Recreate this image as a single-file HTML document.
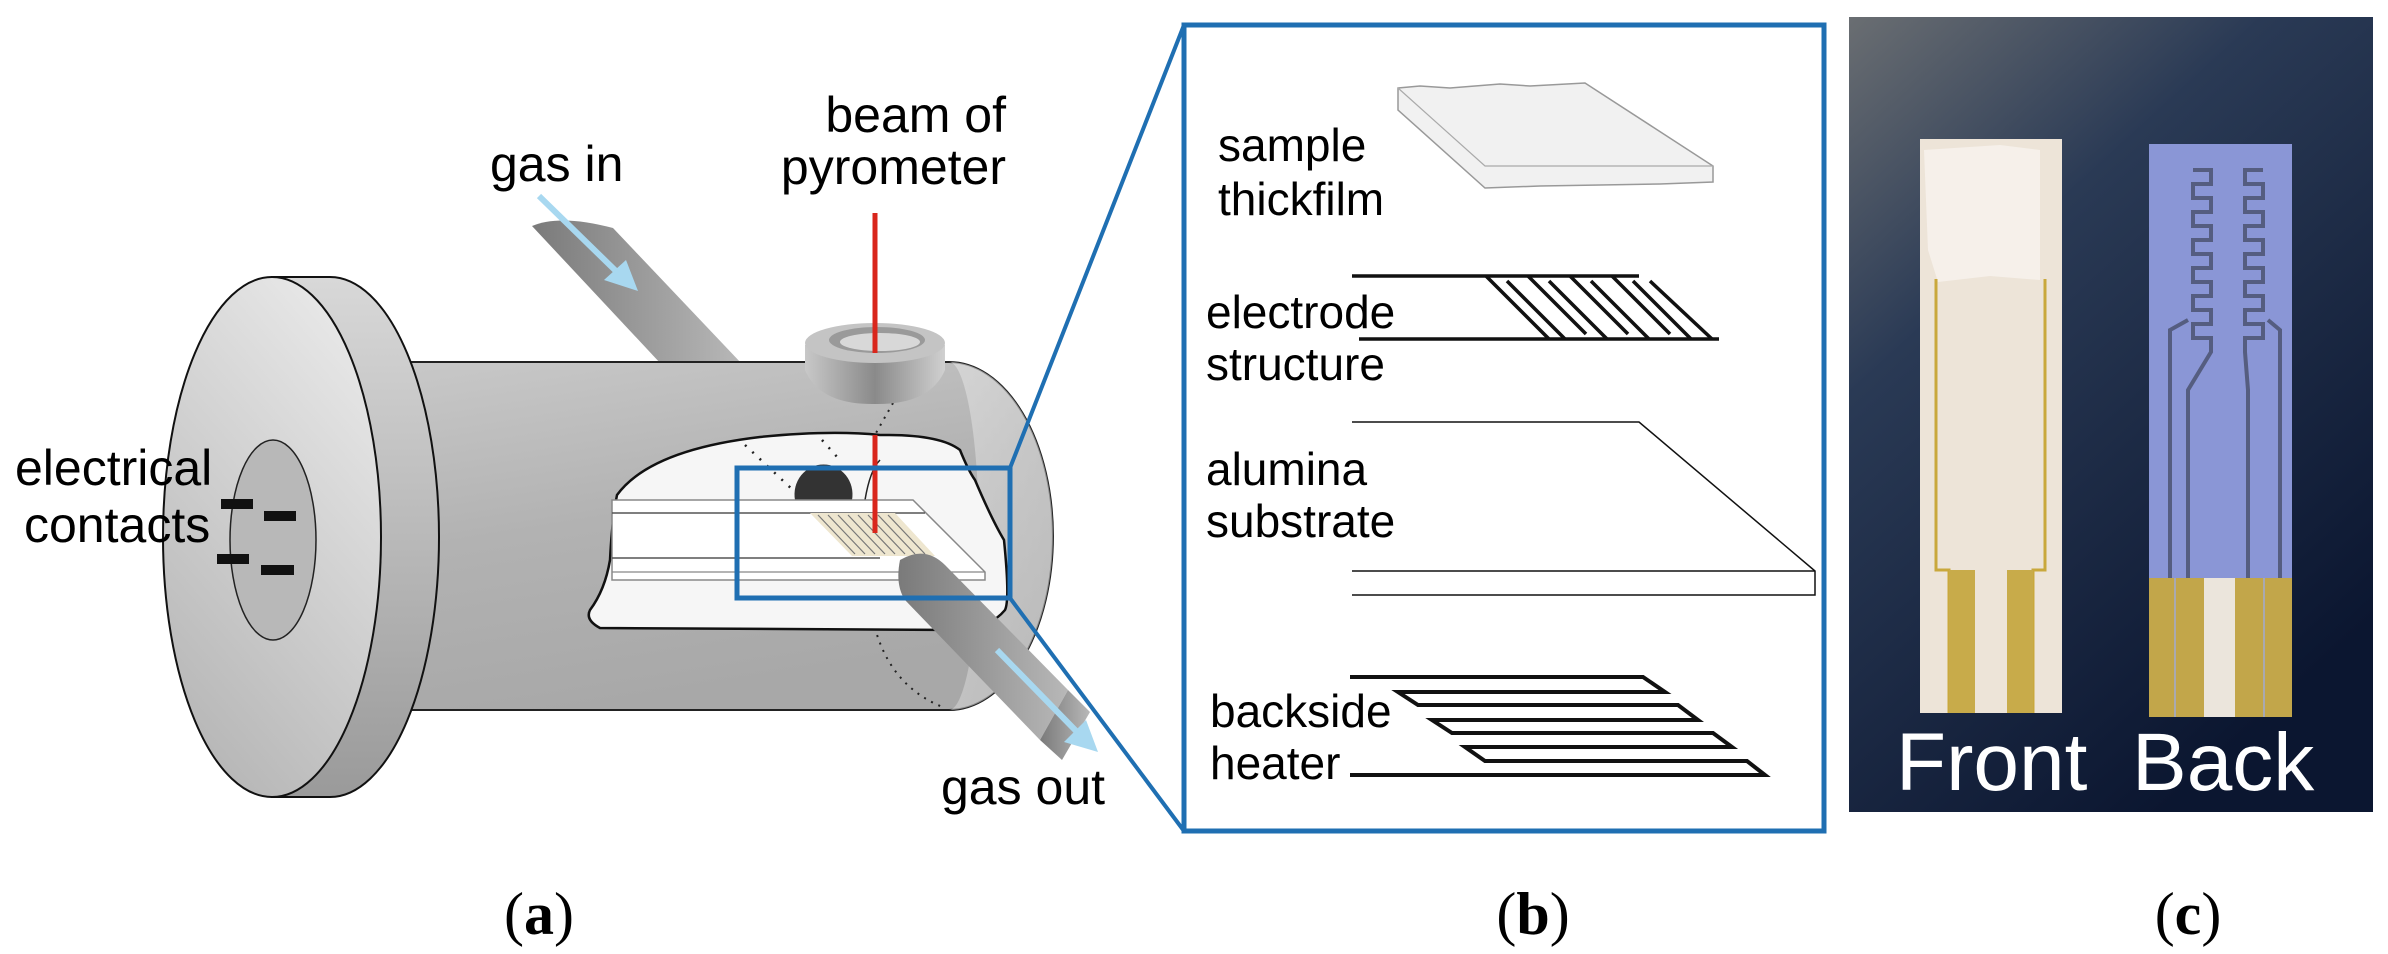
<!DOCTYPE html>
<html><head><meta charset="utf-8"><style>
html,body{margin:0;padding:0;background:#fff}
svg{display:block}
text{font-family:"Liberation Sans",sans-serif}
</style></head><body>
<svg width="2388" height="954" viewBox="0 0 2388 954" xmlns="http://www.w3.org/2000/svg">
<defs>
<linearGradient id="cyl" x1="0" y1="0" x2="0.3" y2="1">
<stop offset="0" stop-color="#c8c8c8"/><stop offset="0.5" stop-color="#b2b2b2"/><stop offset="1" stop-color="#a8a8a8"/></linearGradient>
<linearGradient id="cylr" x1="0" y1="0" x2="1" y2="1">
<stop offset="0" stop-color="#e4e4e4"/><stop offset="1" stop-color="#c4c4c4"/></linearGradient>
<linearGradient id="face" x1="0.7" y1="0" x2="0.2" y2="1">
<stop offset="0" stop-color="#e8e8e8"/><stop offset="1" stop-color="#b4b4b4"/></linearGradient>
<linearGradient id="rim" x1="0" y1="0" x2="0" y2="1">
<stop offset="0" stop-color="#d8d8d8"/><stop offset="1" stop-color="#9a9a9a"/></linearGradient>
<linearGradient id="pipe" x1="0" y1="0" x2="1" y2="0">
<stop offset="0" stop-color="#7a7a7a"/><stop offset="1" stop-color="#b8b8b8"/></linearGradient>
<linearGradient id="cup" x1="0" y1="0" x2="1" y2="0">
<stop offset="0" stop-color="#c8c8c8"/><stop offset="0.5" stop-color="#8a8a8a"/><stop offset="1" stop-color="#d0d0d0"/></linearGradient>
<linearGradient id="bg" x1="0" y1="0" x2="0.6" y2="1">
<stop offset="0" stop-color="#6a6e72"/><stop offset="0.35" stop-color="#2a3a55"/><stop offset="1" stop-color="#0b1630"/></linearGradient>
</defs>

<path d="M532,226 Q560,214 613,228 L742,364 L661,364 Z" fill="url(#pipe)"/>
<path d="M410,362 L949,362 A104,174 0 0 1 949,710 L410,710 Z" fill="url(#cyl)" stroke="#222" stroke-width="2"/>
<path d="M949,362 A104,174 0 0 1 949,710 A30,174 0 0 0 949,362 Z" fill="url(#cylr)" opacity="0.6"/>
<path d="M868,580 Q872,680 945,708" fill="none" stroke="#222" stroke-width="2" stroke-dasharray="2,6"/>
<path d="M893,403 L872,440" fill="none" stroke="#222" stroke-width="2" stroke-dasharray="2,6"/>
<path d="M617,495 Q650,450 760,437 Q830,430 880,435 Q940,434 960,450 Q968,470 975,480 Q992,520 1004,540 Q1010,600 1005,610 Q990,628 960,630 L600,628 Q585,620 590,610 Q605,590 610,560 Q612,520 617,495 Z" fill="#f6f6f6" stroke="#111" stroke-width="2.5"/>
<path d="M745,445 L795,492" stroke="#222" stroke-width="2.5" stroke-dasharray="2,8"/>
<path d="M822,440 L838,458" stroke="#222" stroke-width="2.5" stroke-dasharray="2,8"/>
<path d="M795,500 A29,30 0 1 1 852,500 Z" fill="#333"/>
<path d="M865,500 Q870,470 880,460" fill="none" stroke="#222" stroke-width="1.5"/>
<path d="M612,500 L913,500 L985,572 L985,580 L612,580 Z" fill="#fff" stroke="#888" stroke-width="1.5"/>
<line x1="612" y1="513" x2="925" y2="513" stroke="#555" stroke-width="1.5"/>
<line x1="612" y1="558" x2="880" y2="558" stroke="#555" stroke-width="1.5"/>
<line x1="612" y1="572" x2="985" y2="572" stroke="#888" stroke-width="1.2"/>
<path d="M810,513 L895,513 L935,556 L852,556 Z" fill="#eee6cf"/>
<g stroke="#777" stroke-width="1.2">
<line x1="818" y1="515" x2="855" y2="554"/><line x1="828" y1="515" x2="865" y2="554"/><line x1="838" y1="515" x2="875" y2="554"/><line x1="848" y1="515" x2="885" y2="554"/><line x1="858" y1="515" x2="895" y2="554"/><line x1="868" y1="515" x2="905" y2="554"/><line x1="878" y1="515" x2="915" y2="554"/><line x1="888" y1="515" x2="925" y2="554"/></g>
<path d="M900,560 Q925,545 945,565 L1068,690 L1040,740 L905,600 Q895,585 900,560 Z" fill="url(#pipe)"/>
<path d="M1040,740 L1068,690 L1090,712 L1062,760 Z" fill="url(#pipe)"/>
<path d="M805,345 L805,370 Q820,405 875,404 Q930,405 945,370 L945,345 Z" fill="url(#cup)"/>
<ellipse cx="875" cy="343" rx="70" ry="20" fill="#c4c4c4"/>
<ellipse cx="877" cy="340" rx="48" ry="13" fill="#9a9a9a"/>
<ellipse cx="880" cy="342" rx="40" ry="9" fill="#d8d8d8"/>
<line x1="875" y1="213" x2="875" y2="353" stroke="#d9261c" stroke-width="5"/>
<line x1="875" y1="435" x2="875" y2="533" stroke="#d9261c" stroke-width="5"/>
<path d="M330,277 A109,260 0 0 1 330,797 L272,797 L272,277 Z" fill="url(#rim)" stroke="#111" stroke-width="2"/>
<ellipse cx="272" cy="537" rx="109" ry="260" fill="url(#face)" stroke="#111" stroke-width="2"/>
<ellipse cx="273" cy="540" rx="43" ry="100" fill="#b8b8b8" stroke="#222" stroke-width="1.5"/>
<rect x="221" y="499" width="32" height="10" fill="#111"/>
<rect x="264" y="511" width="32" height="10" fill="#111"/>
<rect x="217" y="554" width="32" height="10" fill="#111"/>
<rect x="261" y="565" width="33" height="10" fill="#111"/>
<g stroke="#a8d8f0" stroke-width="6" fill="#a8d8f0">
<line x1="539" y1="196" x2="620" y2="275"/>
<line x1="997" y1="650" x2="1080" y2="735"/></g>
<polygon points="638,291 604,280 626,260" fill="#a8d8f0"/>
<polygon points="1098,752 1064,742 1086,720" fill="#a8d8f0"/>
<text x="490" y="181" font-size="50">gas in</text>
<text x="1006" y="132" font-size="50" text-anchor="end">beam of</text>
<text x="1006" y="184" font-size="50" text-anchor="end">pyrometer</text>
<text x="15" y="485" font-size="50">electrical</text>
<text x="24" y="542" font-size="50">contacts</text>
<text x="941" y="804" font-size="50">gas out</text>
<rect x="737" y="468" width="273" height="130" fill="none" stroke="#1f6fb2" stroke-width="5"/>
<line x1="1010" y1="468" x2="1184" y2="25" stroke="#1f6fb2" stroke-width="4"/>
<line x1="1010" y1="598" x2="1184" y2="831" stroke="#1f6fb2" stroke-width="4"/>
<rect x="1184" y="25" width="640" height="806" fill="#fff" stroke="#1f6fb2" stroke-width="5"/>
<path d="M1398,88 L1420,86 L1450,88 L1500,84 L1530,86 L1585,83 L1713,166 L1713,182 L1660,184 L1600,185 L1540,186 L1485,188 L1398,110 Z" fill="#f1f1f1" stroke="#999" stroke-width="1.5"/>
<path d="M1398,88 L1485,166 L1713,166" fill="none" stroke="#aaa" stroke-width="1.2"/>
<text x="1218" y="161" font-size="46">sample</text>
<text x="1218" y="215" font-size="46">thickfilm</text>
<text x="1206" y="328" font-size="46">electrode</text>
<text x="1206" y="380" font-size="46">structure</text>
<text x="1206" y="485" font-size="46">alumina</text>
<text x="1206" y="537" font-size="46">substrate</text>
<text x="1210" y="727" font-size="46">backside</text>
<text x="1210" y="779" font-size="46">heater</text>
<g stroke="#111" stroke-width="3.5">
<line x1="1352" y1="276" x2="1639" y2="276"/>
<line x1="1359" y1="339" x2="1719" y2="339"/>
<line x1="1486" y1="276" x2="1549" y2="339"/>
<line x1="1507" y1="281" x2="1565" y2="339"/>
<line x1="1528" y1="276" x2="1586" y2="334"/>
<line x1="1549" y1="281" x2="1607" y2="339"/>
<line x1="1570" y1="276" x2="1628" y2="334"/>
<line x1="1591" y1="281" x2="1649" y2="339"/>
<line x1="1612" y1="276" x2="1670" y2="334"/>
<line x1="1633" y1="281" x2="1691" y2="339"/>
<line x1="1650" y1="281" x2="1712" y2="339"/>
</g>
<g stroke="#111" stroke-width="1.5" fill="none">
<path d="M1352,422 L1639,422 L1815,571 L1815,595 L1352,595"/>
<line x1="1352" y1="571" x2="1815" y2="571"/>
</g>
<polyline points="1350,677 1643,677 1665,692 1398,692 1418,705 1678,705 1698,720 1432,720 1452,733 1713,733 1732,747 1465,747 1485,761 1747,761 1765,775 1350,775" fill="none" stroke="#111" stroke-width="4"/>
<!-- panel c photo -->
<rect x="1849" y="17" width="524" height="795" fill="url(#bg)"/>
<rect x="1920" y="139" width="142" height="574" fill="#ede4d8"/>
<path d="M1924,150 L2000,145 L2040,150 L2040,280 L1990,276 L1938,282 L1928,250 Z" fill="#f6f0ea"/>
<path d="M1936,279 L1936,570 L1949,570 L1949,713 M2045,279 L2045,570 L2033,570 L2033,713" fill="none" stroke="#c9a83c" stroke-width="3"/>
<rect x="1949" y="570" width="26" height="143" fill="#c8ab4a"/>
<rect x="2007" y="570" width="26" height="143" fill="#c8ab4a"/>
<rect x="2149" y="144" width="143" height="573" fill="#8a96d6"/>
<rect x="2149" y="578" width="143" height="139" fill="#c2a64a"/>
<rect x="2204" y="578" width="31" height="139" fill="#ebe5dc"/>
<line x1="2175" y1="578" x2="2175" y2="717" stroke="#a9a9b0" stroke-width="2"/>
<line x1="2264" y1="578" x2="2264" y2="717" stroke="#a9a9b0" stroke-width="2"/>
<g fill="none" stroke="#555d80" stroke-width="4">
<path d="M2193,170 h18 v14 h-18 v14 h18 v14 h-18 v14 h18 v14 h-18 v14 h18 v14 h-18 v14 h18 v14 h-18 v14 h18 v14 h-18 v14 h18 v14 L2188,390 L2188,578"/>
<path d="M2188,320 L2170,330 L2170,578"/>
<path d="M2263,170 h-18 v14 h18 v14 h-18 v14 h18 v14 h-18 v14 h18 v14 h-18 v14 h18 v14 h-18 v14 h18 v14 h-18 v14 h18 v14 h-18 v14 L2248,390 L2248,578"/>
<path d="M2268,320 L2280,330 L2280,578"/>
</g>
<text x="1896" y="790" font-size="82" fill="#fff">Front</text>
<text x="2132" y="790" font-size="82" fill="#fff">Back</text>
<text x="539" y="934" text-anchor="middle" font-size="60" style="font-family:'Liberation Serif',serif">(<tspan font-weight="bold">a</tspan>)</text>
<text x="1533" y="934" text-anchor="middle" font-size="60" style="font-family:'Liberation Serif',serif">(<tspan font-weight="bold">b</tspan>)</text>
<text x="2188" y="934" text-anchor="middle" font-size="60" style="font-family:'Liberation Serif',serif">(<tspan font-weight="bold">c</tspan>)</text>
</svg>
</body></html>
